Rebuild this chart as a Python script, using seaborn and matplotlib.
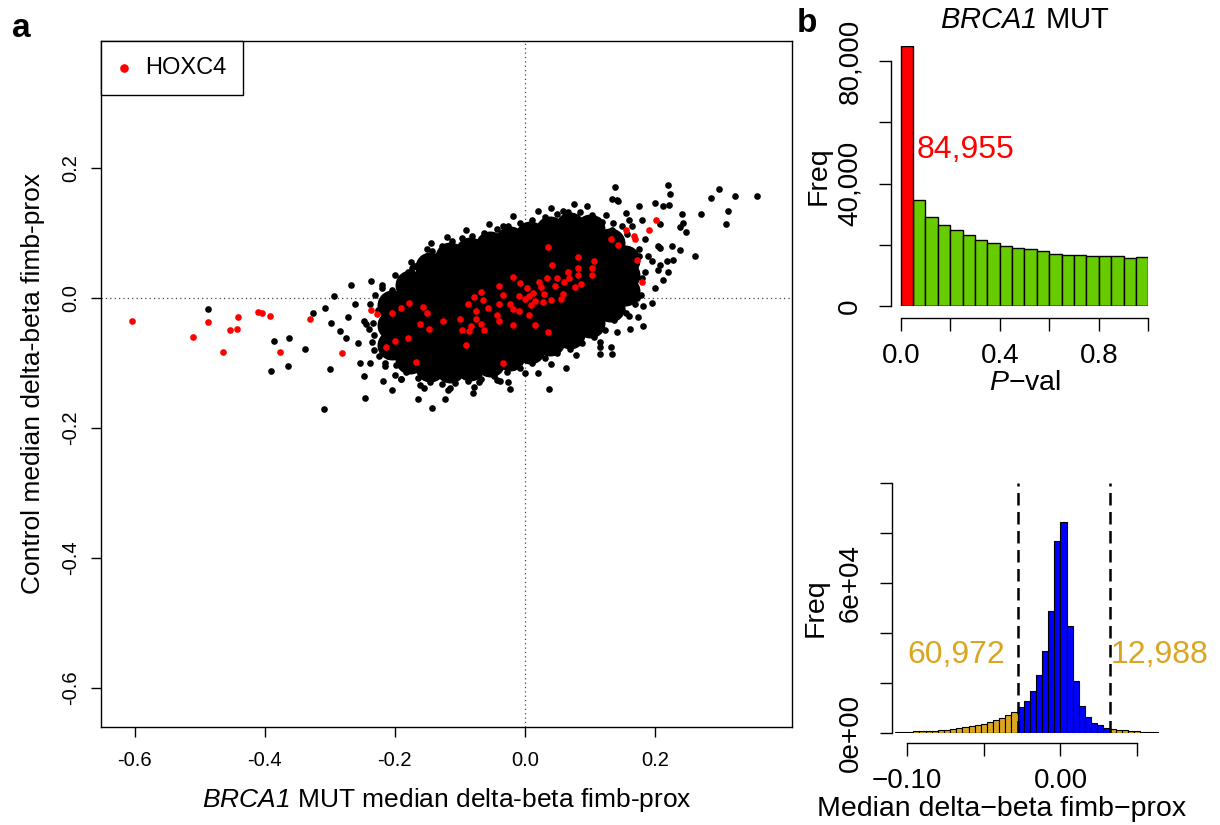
import numpy as np
import matplotlib
matplotlib.use("Agg")
import matplotlib.pyplot as plt
import matplotlib.transforms as mtransforms
import seaborn as sns

# ---------------- panel a: BRCA1 MUT vs control median delta-beta ----------------
# dense core of the cloud (drawn with large dots so the centre is solid)
core_x = [-0.205, -0.205, -0.205,
          -0.177, -0.177, -0.177, -0.177, -0.177,
          -0.146, -0.146, -0.146, -0.146, -0.146, -0.146,
          -0.115, -0.115, -0.115, -0.115, -0.115, -0.115,
          -0.085, -0.085, -0.085, -0.085, -0.085, -0.085,
          -0.054, -0.054, -0.054, -0.054, -0.054, -0.054,
          -0.023, -0.023, -0.023, -0.023, -0.023, -0.023,
          0.008, 0.008, 0.008, 0.008, 0.008, 0.008,
          0.038, 0.038, 0.038, 0.038, 0.038, 0.038,
          0.069, 0.069, 0.069, 0.069, 0.069, 0.069,
          0.100, 0.100, 0.100, 0.100, 0.100,
          0.131, 0.131, 0.131, 0.131,
          0.154, 0.154, 0.154]
core_y = [-0.011, -0.042, -0.072,
          0.020, -0.008, -0.035, -0.065, -0.094,
          0.048, 0.017, -0.014, -0.045, -0.075, -0.106,
          0.063, 0.029, -0.005, -0.038, -0.072, -0.108,
          0.071, 0.035, 0.000, -0.035, -0.071, -0.105,
          0.080, 0.045, 0.009, -0.026, -0.062, -0.098,
          0.088, 0.052, 0.017, -0.018, -0.054, -0.089,
          0.095, 0.060, 0.025, -0.011, -0.046, -0.078,
          0.103, 0.069, 0.035, 0.002, -0.032, -0.066,
          0.109, 0.077, 0.043, 0.011, -0.023, -0.055,
          0.106, 0.069, 0.034, -0.003, -0.038,
          0.085, 0.052, 0.018, -0.014,
          0.058, 0.035, 0.011]

# points along the edge of the dense cloud
edge_x = [-0.234, -0.226, -0.215, -0.205, -0.192, -0.180, -0.169, -0.157, -0.143, -0.128,
          -0.112, -0.097, -0.082, -0.063, -0.043, -0.026, -0.008, 0.011, 0.031, 0.049,
          0.066, 0.085, 0.103, 0.118, 0.134, 0.148, 0.158, 0.166, 0.169, 0.166,
          0.158, 0.149, 0.137, 0.123, 0.106, 0.088, 0.069, 0.049, 0.031, 0.011,
          -0.008, -0.028, -0.048, -0.068, -0.088, -0.108, -0.128, -0.146, -0.165, -0.183,
          -0.198, -0.211, -0.222, -0.232,
          -0.150, -0.120, -0.090, -0.055, -0.018, 0.020, 0.040, 0.075, 0.095, 0.125,
          0.157, 0.175, 0.180, 0.172, 0.160, 0.115, 0.078, 0.040, 0.000, -0.038,
          -0.078, -0.118, -0.155, -0.190, -0.215, -0.235, -0.245, -0.238, -0.220, -0.200,
          -0.175]
edge_y = [-0.038, -0.018, -0.003, 0.012, 0.023, 0.040, 0.049, 0.062, 0.072, 0.080,
          0.088, 0.092, 0.095, 0.100, 0.106, 0.111, 0.115, 0.120, 0.125, 0.129,
          0.132, 0.132, 0.128, 0.117, 0.105, 0.089, 0.074, 0.055, 0.035, 0.015,
          -0.003, -0.018, -0.034, -0.049, -0.060, -0.069, -0.078, -0.085, -0.092, -0.100,
          -0.108, -0.114, -0.120, -0.125, -0.128, -0.131, -0.132, -0.129, -0.123, -0.114,
          -0.103, -0.089, -0.074, -0.057,
          0.075, 0.093, 0.105, 0.113, 0.126, 0.133, 0.138, 0.144, 0.141, 0.128,
          0.098, 0.065, 0.030, 0.000, -0.028, -0.068, -0.088, -0.101, -0.115, -0.128,
          -0.137, -0.142, -0.138, -0.125, -0.100, -0.068, -0.040, -0.010, 0.020, 0.035,
          0.055]

# scattered points outside the dense cloud
sparse_x = [-0.487, -0.386, -0.363, -0.391, -0.365, -0.338, -0.326, -0.307, -0.293, -0.267,
            -0.237, -0.298, -0.285, -0.275, -0.300, -0.309, -0.261, -0.247, -0.246, -0.254,
            -0.218, -0.205, -0.272, -0.256, -0.238, -0.164, -0.174, -0.191, -0.144, -0.129,
            -0.143, -0.123, -0.115, -0.080, -0.162, -0.070, 0.037, 0.064, 0.020, -0.023,
            -0.026, -0.043, 0.116, 0.132, 0.116, 0.134, 0.155, -0.033, 0.059, 0.138,
            0.220, 0.224, 0.299, 0.287, 0.324, 0.357, 0.312, 0.310, 0.271, 0.242,
            0.248, 0.238, 0.262, 0.238, 0.226, 0.213, 0.222, 0.200, 0.176, 0.156,
            0.141, 0.208, 0.228, 0.218, 0.220, 0.213, 0.205, 0.200, 0.195, 0.182,
            0.162, 0.141, 0.174, 0.182, 0.208, 0.134, 0.144, 0.244, 0.205, 0.208,
            0.195, 0.180, 0.185, 0.175, 0.190, 0.185, 0.178, 0.170, 0.160, 0.150,
            0.165, 0.113, 0.136, -0.225, -0.215, -0.200, -0.232, -0.190, -0.240, -0.248,
            -0.230, -0.220]
sparse_y = [-0.017, -0.066, -0.062, -0.113, -0.105, -0.078, -0.024, -0.016, 0.003, 0.019,
            0.026, -0.038, -0.051, -0.062, -0.109, -0.171, -0.010, -0.120, -0.154, -0.100,
            -0.128, -0.142, -0.030, -0.070, -0.100, -0.155, 0.046, 0.030, 0.085, 0.071,
            -0.169, -0.156, -0.139, -0.147, -0.134, -0.130, -0.140, -0.108, -0.116, -0.140,
            -0.129, -0.127, -0.075, -0.075, -0.087, -0.087, -0.024, 0.110, 0.133, 0.171,
            0.174, 0.160, 0.167, 0.153, 0.157, 0.156, 0.133, 0.113, 0.129, 0.129,
            0.102, 0.109, 0.064, 0.074, 0.080, 0.141, 0.143, 0.146, 0.141, 0.131,
            0.151, 0.114, 0.058, 0.056, 0.040, 0.028, 0.043, 0.015, -0.008, -0.044,
            -0.048, -0.052, -0.029, -0.013, 0.076, 0.152, 0.149, 0.115, 0.079, 0.051,
            0.056, 0.120, 0.090, 0.075, 0.065, 0.040, 0.005, -0.010, 0.120, 0.110,
            0.110, 0.120, 0.115, -0.090, -0.105, -0.118, -0.080, -0.125, -0.048, -0.035,
            0.005, 0.015]

# HOXC4 probes (red)
hox_x = [-0.604, -0.510, -0.487, -0.465, -0.454, -0.443, -0.441, -0.411, -0.405, -0.392,
         -0.377, -0.331, -0.282, -0.237, -0.227, -0.205, -0.190, -0.178, -0.200, -0.180,
         -0.213, -0.167, -0.156, -0.151, -0.162, -0.148, -0.126, -0.090, -0.100, -0.096,
         -0.087, -0.078, -0.068, -0.064, -0.075, -0.075, -0.068, -0.083, -0.086, -0.063,
         -0.056, -0.040, -0.034, -0.040, -0.043, -0.040, -0.019, -0.019, -0.023, -0.018,
         -0.009, -0.009, -0.007, 0.003, 0.000, 0.007, 0.009, 0.013, 0.015, 0.007,
         0.016, 0.021, 0.025, 0.029, 0.028, 0.034, 0.035, 0.041, 0.040, 0.036,
         0.047, 0.050, 0.056, 0.059, 0.060, 0.067, 0.068, 0.077, 0.081, 0.081,
         0.081, 0.086, 0.103, 0.103, 0.107, -0.034, 0.132, 0.143, 0.156, 0.202,
         0.191, 0.168, 0.170, 0.172, 0.180]
hox_y = [-0.035, -0.060, -0.037, -0.084, -0.050, -0.048, -0.029, -0.022, -0.023, -0.028,
         -0.084, -0.032, -0.085, -0.019, -0.025, -0.023, -0.016, -0.008, -0.066, -0.061,
         -0.076, -0.099, -0.014, -0.023, -0.040, -0.048, -0.036, -0.073, -0.032, -0.049,
         -0.009, 0.002, 0.009, -0.003, -0.020, -0.032, -0.040, -0.043, -0.051, -0.050,
         -0.016, 0.018, 0.005, -0.010, -0.027, -0.036, 0.032, -0.041, -0.009, -0.017,
         -0.020, 0.003, 0.023, 0.015, -0.002, 0.003, -0.011, 0.007, -0.005, -0.027,
         -0.042, 0.025, 0.017, 0.006, -0.007, 0.030, 0.078, 0.051, -0.003, -0.052,
         0.018, 0.031, -0.002, 0.006, 0.025, 0.040, 0.030, 0.016, 0.063, 0.046,
         0.035, 0.022, 0.046, 0.035, 0.057, -0.100, 0.091, 0.082, 0.104, 0.120,
         0.104, 0.095, 0.090, 0.058, 0.025]

# ---------------- panel b: P-value histogram ----------------
pval_width = 0.05
pval_counts = [84955, 34750, 29180, 26560, 24810, 23060, 21640, 20660, 19560, 19020,
               18470, 17810, 17050, 16720, 16500, 16390, 16180, 16280, 15740, 16070]
pval_cut = 0.05

# ---------------- panel b: median delta-beta histogram ----------------
db_start = -0.108
db_width = 0.004
db_counts = [200, 250, 350, 450, 550, 700, 800, 900, 1200, 1500,
             1700, 2100, 2600, 3000, 3600, 4300, 5000, 5800, 7000, 8300,
             10100, 12800, 16800, 23100, 32500, 48500, 76800, 84300, 42700, 20700,
             10700, 6300, 4000, 3000, 2000,
             1600, 1200, 900, 700, 500, 400, 300, 200]
db_low, db_high = -0.028, 0.032
n_low, n_high = "60,972", "12,988"

# ---------------- style ----------------
sns.set_style("ticks")
plt.rcParams["font.family"] = ["Liberation Sans", "DejaVu Sans"]
plt.rcParams["mathtext.fontset"] = "custom"
plt.rcParams["mathtext.rm"] = "Liberation Sans:italic"
plt.rcParams["mathtext.it"] = "Liberation Sans:italic"
plt.rcParams["axes.unicode_minus"] = False
plt.rcParams["axes.linewidth"] = 1.0
for key in ["text.color", "axes.labelcolor", "xtick.color", "ytick.color", "axes.edgecolor"]:
    plt.rcParams[key] = "black"

fig = plt.figure(figsize=(12.2, 8.25), dpi=100)

# ===== panel a =====
ax = fig.add_axes([0.0828, 0.1188, 0.5664, 0.8315])
ax.axvline(0, color="#444444", lw=0.9, ls=(0, (1, 2.5)), zorder=0)
ax.axhline(0, color="#444444", lw=0.9, ls=(0, (1, 2.5)), zorder=0)
sns.scatterplot(x=core_x, y=core_y, s=466, color="black", linewidth=0, ax=ax, zorder=2)
sns.scatterplot(x=edge_x + sparse_x, y=edge_y + sparse_y, s=23, color="black",
                linewidth=0, ax=ax, zorder=2)
sns.scatterplot(x=hox_x, y=hox_y, s=23, color="#FF0000", linewidth=0, ax=ax,
                zorder=3, label="HOXC4")
ax.set_xlim(-0.652, 0.411)
ax.set_ylim(-0.660, 0.395)
ticks_a = [-0.6, -0.4, -0.2, 0.0, 0.2]
ax.set_xticks(ticks_a)
ax.set_xticklabels(["-0.6", "-0.4", "-0.2", "0.0", "0.2"])
ax.set_yticks(ticks_a)
ax.set_yticklabels(["-0.6", "-0.4", "-0.2", "0.0", "0.2"], rotation=90, va="center")
ax.tick_params(direction="out", length=7, width=1, labelsize=14.5)
ax.tick_params(axis="x", pad=10)
ax.tick_params(axis="y", pad=8)
for sp in ax.spines.values():
    sp.set_visible(True)
    sp.set_linewidth(1.0)
ax.set_xlabel(r"$BRCA1$ MUT median delta-beta fimb-prox", fontsize=19, labelpad=12)
ax.set_ylabel("Control median delta-beta fimb-prox", fontsize=19, labelpad=12)
leg = ax.legend(loc="upper left", bbox_to_anchor=(0, 1), borderaxespad=0, fancybox=False,
                framealpha=1, edgecolor="black", fontsize=17, handlelength=0.6,
                handletextpad=0.6, borderpad=0.68, markerscale=1.3)
leg.get_frame().set_linewidth(1.0)

# ===== panel b top: P-values =====
axp = fig.add_axes([0.7301, 0.6291, 0.2111, 0.3153])
p_edges = np.arange(len(pval_counts) + 1) * pval_width
p_mids = p_edges[:-1] + pval_width / 2
p_counts = np.array(pval_counts)
sig = p_mids < pval_cut
sns.histplot(x=p_mids[~sig], weights=p_counts[~sig], bins=p_edges.tolist(), color="#66CC00",
             alpha=1, edgecolor="black", linewidth=1.0, ax=axp)
sns.histplot(x=p_mids[sig], weights=p_counts[sig], bins=p_edges.tolist(), color="#FF0000",
             alpha=1, edgecolor="black", linewidth=1.0, ax=axp)
axp.set_xlim(-0.0404, 1.0)
axp.set_ylim(0, 85000)
axp.spines["top"].set_visible(False)
axp.spines["right"].set_visible(False)
axp.spines["bottom"].set_position(("outward", 8.6))
axp.spines["bottom"].set_bounds(0, 1)
axp.spines["left"].set_bounds(0, 80000)
axp.set_xticks([0, 0.2, 0.4, 0.6, 0.8, 1.0])
axp.set_xticklabels(["0.0", "", "0.4", "", "0.8", ""])
axp.set_yticks([0, 20000, 40000, 60000, 80000])
axp.set_yticklabels(["0", "", "40,000", "", "80,000"], rotation=90, va="center")
axp.tick_params(direction="out", length=9, width=1, labelsize=20)
axp.tick_params(axis="x", pad=9)
axp.tick_params(axis="y", pad=11)
axp.set_xlabel(r"$P$" + "\u2212val", fontsize=20.5)
axp.set_ylabel("Freq", fontsize=20.5)
axp.xaxis.set_label_coords(0.521, -0.245)
axp.yaxis.set_label_coords(-0.23, 0.5)
axp.text(0.065, 51000, "84,955", color="#FF0000", fontsize=23, ha="left", va="center")
trans = mtransforms.blended_transform_factory(axp.transData, axp.transAxes)
axp.text(0.5, 1.0996, r"$BRCA1$ MUT", transform=trans, fontsize=21,
         ha="center", va="center")

# ===== panel b bottom: median delta-beta =====
axd = fig.add_axes([0.7309, 0.1121, 0.2194, 0.3030])
d_edges = db_start + np.arange(len(db_counts) + 1) * db_width
d_mids = d_edges[:-1] + db_width / 2
d_counts = np.array(db_counts)
mid_band = (d_mids > db_low) & (d_mids < db_high)
sns.histplot(x=d_mids[~mid_band], weights=d_counts[~mid_band], bins=d_edges.tolist(),
             color="#DAA520", alpha=1, edgecolor="black", linewidth=0.8, ax=axd)
sns.histplot(x=d_mids[mid_band], weights=d_counts[mid_band], bins=d_edges.tolist(),
             color="#0000FF", alpha=1, edgecolor="black", linewidth=0.8, ax=axd)
for xv in (db_low, db_high):
    axd.axvline(xv, color="black", lw=1.8, ls=(0, (5, 2.6)), zorder=5)
axd.set_xlim(-0.1101, 0.0645)
axd.set_ylim(0, 100000)
axd.spines["top"].set_visible(False)
axd.spines["right"].set_visible(False)
axd.spines["bottom"].set_position(("outward", 7.9))
axd.spines["bottom"].set_bounds(-0.10, 0.05)
axd.spines["left"].set_bounds(0, 100000)
axd.set_xticks([-0.10, -0.05, 0.0, 0.05])
axd.set_xticklabels(["\u22120.10", "", "0.00", ""])
axd.set_yticks([0, 20000, 40000, 60000, 80000, 100000])
axd.set_yticklabels(["0e+00", "", "", "6e+04", "", ""], rotation=90, va="center")
axd.tick_params(direction="out", length=9, width=1, labelsize=20)
axd.tick_params(axis="x", pad=9)
axd.tick_params(axis="y", pad=11)
axd.set_xlabel("Median delta\u2212beta fimb\u2212prox", fontsize=20.5)
axd.set_ylabel("Freq", fontsize=20.5)
axd.xaxis.set_label_coords(0.411, -0.255)
axd.yaxis.set_label_coords(-0.235, 0.5)
axd.text(-0.0682, 31000, n_low, color="#DAA520", fontsize=23, ha="center", va="center")
axd.text(0.0649, 31000, n_high, color="#DAA520", fontsize=23, ha="center", va="center")

# panel letters
fig.text(12 / 1220, 1 - 37 / 825, "a", fontsize=24, fontweight="bold", va="baseline")
fig.text(797 / 1220, 1 - 32 / 825, "b", fontsize=24, fontweight="bold", va="baseline")

fig.savefig("out.png", dpi=100)
